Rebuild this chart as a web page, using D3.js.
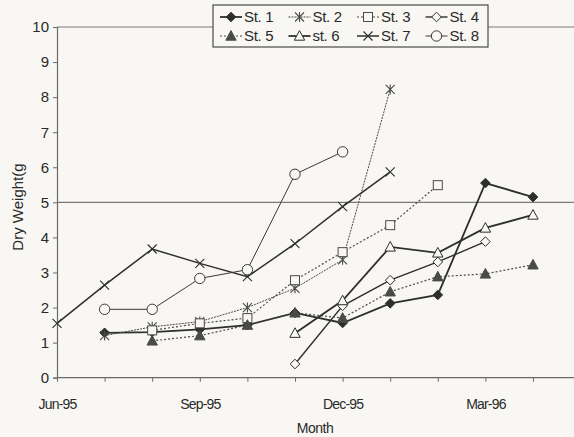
<!DOCTYPE html>
<html>
<head>
<meta charset="utf-8">
<script src="https://cdn.jsdelivr.net/npm/d3@7"></script>
<style>
  html, body { margin: 0; padding: 0; background: #f8f7f3; }
  svg { display: block; }
  text { font-family: "Liberation Sans", Arial, sans-serif; fill: #2a2a2a; }
</style>
</head>
<body>
<svg id="chart" width="574" height="437"></svg>
<script>
// Monthly sampling dates (category axis)
const months = ["Jun-95", "Jul-95", "Aug-95", "Sep-95", "Oct-95", "Nov-95",
                "Dec-95", "Jan-96", "Feb-96", "Mar-96", "Apr-96"];
const monthTickLabels = ["Jun-95", "Sep-95", "Dec-95", "Mar-96"];
const yTicks = [0, 1, 2, 3, 4, 5, 6, 7, 8, 9, 10];
const gridValues = [5, 10];

// Dry weight per station (null = not sampled)
const st1 = [null, 1.28, 1.30, 1.38, 1.50, 1.85, 1.56, 2.12, 2.36, 5.55, 5.15];
const st2 = [null, 1.20, 1.45, 1.60, 2.00, 2.55, 3.36, 8.22, null, null, null];
const st3 = [null, null, 1.35, 1.55, 1.70, 2.78, 3.58, 4.35, 5.49, null, null];
const st4 = [null, null, null, null, null, 0.39, 2.05, 2.78, 3.30, 3.88, null];
const st5 = [null, null, 1.05, 1.20, 1.50, 1.85, 1.70, 2.45, 2.88, 2.96, 3.22];
const st6 = [null, null, null, null, null, 1.27, 2.20, 3.73, 3.56, 4.27, 4.64];
const st7 = [1.55, 2.64, 3.67, 3.26, 2.88, 3.82, 4.88, 5.87, null, null, null];
const st8 = [null, 1.95, 1.95, 2.83, 3.08, 5.80, 6.44, null, null, null, null];

const seriesNames = ["St. 1", "St. 2", "St. 3", "St. 4", "St. 5", "st. 6", "St. 7", "St. 8"];
const seriesValues = [st1, st2, st3, st4, st5, st6, st7, st8];

// Visual style per station
const styles = [
  { marker: "diamond",  fill: true,  width: 1.8, dash: null,  color: "#2e2e2e" },
  { marker: "asterisk", fill: false, width: 1.0, dash: "2,1", color: "#4a4a4a" },
  { marker: "square",   fill: false, width: 1.2, dash: "2,2", color: "#4a4a4a" },
  { marker: "diamond",  fill: false, width: 1.4, dash: null,  color: "#2e2e2e" },
  { marker: "triangle", fill: true,  width: 1.2, dash: "2,2", color: "#4a4a4a" },
  { marker: "triangle", fill: false, width: 1.8, dash: null,  color: "#2e2e2e" },
  { marker: "cross",    fill: false, width: 1.5, dash: null,  color: "#2e2e2e" },
  { marker: "circle",   fill: false, width: 1.0, dash: null,  color: "#3a3a3a" }
];

const svg = d3.select("#chart");
const W = 574, H = 437;
const x0 = 57, y0 = 377.7, yTop = 27;

const x = d3.scaleLinear().domain([0, 10]).range([x0, 533]);
const y = d3.scaleLinear().domain([0, 10]).range([y0, yTop]);

// Horizontal gridlines
svg.append("g").selectAll("line").data(gridValues).join("line")
  .attr("x1", x0).attr("x2", W)
  .attr("y1", d => y(d)).attr("y2", d => y(d))
  .attr("stroke", "#7a7a7a").attr("stroke-width", 1.2);

// Y axis
const yAxis = d3.axisLeft(y).tickValues(yTicks).tickSize(4).tickPadding(4).tickFormat(d3.format("d"));
const gy = svg.append("g").attr("transform", `translate(${x0},0)`).call(yAxis);
gy.select(".domain").attr("stroke", "#6a6a6a").attr("stroke-width", 1.2);
gy.selectAll(".tick line").attr("stroke", "#6a6a6a");
gy.selectAll(".tick text").style("font-size", "15px").attr("fill", "#2a2a2a")
  .style("font-family", "'Liberation Sans', Arial, sans-serif");

// X axis (monthly ticks, labels every quarter)
const xTickIdx = d3.range(0, 12);
const xAxis = d3.axisBottom(x).tickValues(xTickIdx).tickSize(4).tickPadding(17)
  .tickFormat(i => monthTickLabels.includes(months[i]) ? months[i] : "");
const gx = svg.append("g").attr("transform", `translate(0,${y0})`).call(xAxis);
gx.select(".domain").remove();
gx.append("line").attr("x1", x0).attr("x2", W).attr("y1", 0).attr("y2", 0)
  .attr("stroke", "#6a6a6a").attr("stroke-width", 1.2);
gx.selectAll(".tick line").attr("stroke", "#6a6a6a");
gx.selectAll(".tick text").style("font-size", "14px").attr("fill", "#2a2a2a")
  .style("font-family", "'Liberation Sans', Arial, sans-serif")
  .attr("letter-spacing", "-0.8");

// Axis titles
svg.append("text").attr("x", 315).attr("y", 433).attr("text-anchor", "middle")
  .style("font-size", "14px").attr("letter-spacing", "-0.5").text("Month");
svg.append("text").attr("transform", "translate(23,207) rotate(-90)")
  .attr("text-anchor", "middle").style("font-size", "15px").text("Dry Weight(g");

// Marker drawing
function drawMarker(g, type, fill, color) {
  const s = 4.8;
  const fc = fill ? color : "#f8f7f3";
  if (type === "diamond") {
    g.append("path").attr("d", `M0,${-s}L${s},0L0,${s}L${-s},0Z`)
      .attr("fill", fc).attr("stroke", color).attr("stroke-width", 1);
  } else if (type === "square") {
    g.append("rect").attr("x", -4.5).attr("y", -4.5).attr("width", 9).attr("height", 9)
      .attr("fill", fc).attr("stroke", color).attr("stroke-width", 1);
  } else if (type === "triangle") {
    g.append("path").attr("d", `M0,-5.4L5.2,4.2L-5.2,4.2Z`)
      .attr("fill", fc).attr("stroke", color).attr("stroke-width", 1);
  } else if (type === "circle") {
    g.append("circle").attr("r", 5.2).attr("fill", fc).attr("stroke", color).attr("stroke-width", 1);
  } else if (type === "cross") {
    g.append("path").attr("d", "M-4.5,-4.5L4.5,4.5M-4.5,4.5L4.5,-4.5")
      .attr("stroke", color).attr("stroke-width", 1.1).attr("fill", "none");
  } else if (type === "asterisk") {
    g.append("path").attr("d", "M-4.5,-4.5L4.5,4.5M-4.5,4.5L4.5,-4.5M0,-5L0,5")
      .attr("stroke", color).attr("stroke-width", 1.1).attr("fill", "none");
  }
}

// Lines and markers per station
const line = d3.line().defined(d => d.v !== null).x(d => x(d.i)).y(d => y(d.v));
const plot = svg.append("g");
seriesValues.forEach((vals, k) => {
  const st = styles[k];
  const pts = vals.map((v, i) => ({ i, v }));
  plot.append("path").datum(pts).attr("d", line)
    .attr("fill", "none").attr("stroke", st.color).attr("stroke-width", st.width)
    .attr("stroke-dasharray", st.dash);
});
seriesValues.forEach((vals, k) => {
  const st = styles[k];
  vals.forEach((v, i) => {
    if (v === null) return;
    const g = plot.append("g").attr("transform", `translate(${x(i)},${y(v)})`);
    drawMarker(g, st.marker, st.fill, st.color);
  });
});

// Legend
const legX = 213, legY = 5, legW = 275, legH = 42;
const leg = svg.append("g");
leg.append("rect").attr("x", legX).attr("y", legY).attr("width", legW).attr("height", legH)
  .attr("fill", "#f8f7f3").attr("stroke", "#4a4a4a").attr("stroke-width", 1.2);
const colW = 68.5;
seriesNames.forEach((name, k) => {
  const st = styles[k];
  const col = k % 4, row = Math.floor(k / 4);
  const cx = legX + 7 + col * colW;
  const cy = legY + 12 + row * 19;
  const g = leg.append("g");
  g.append("line").attr("x1", cx).attr("x2", cx + 22).attr("y1", cy).attr("y2", cy)
    .attr("stroke", st.color).attr("stroke-width", st.width).attr("stroke-dasharray", st.dash);
  const m = g.append("g").attr("transform", `translate(${cx + 11},${cy})`);
  drawMarker(m, st.marker, st.fill, st.color);
  g.append("text").attr("x", cx + 24).attr("y", cy + 5).style("font-size", "15px")
    .attr("letter-spacing", "-0.3").text(name);
});
</script>
</body>
</html>
